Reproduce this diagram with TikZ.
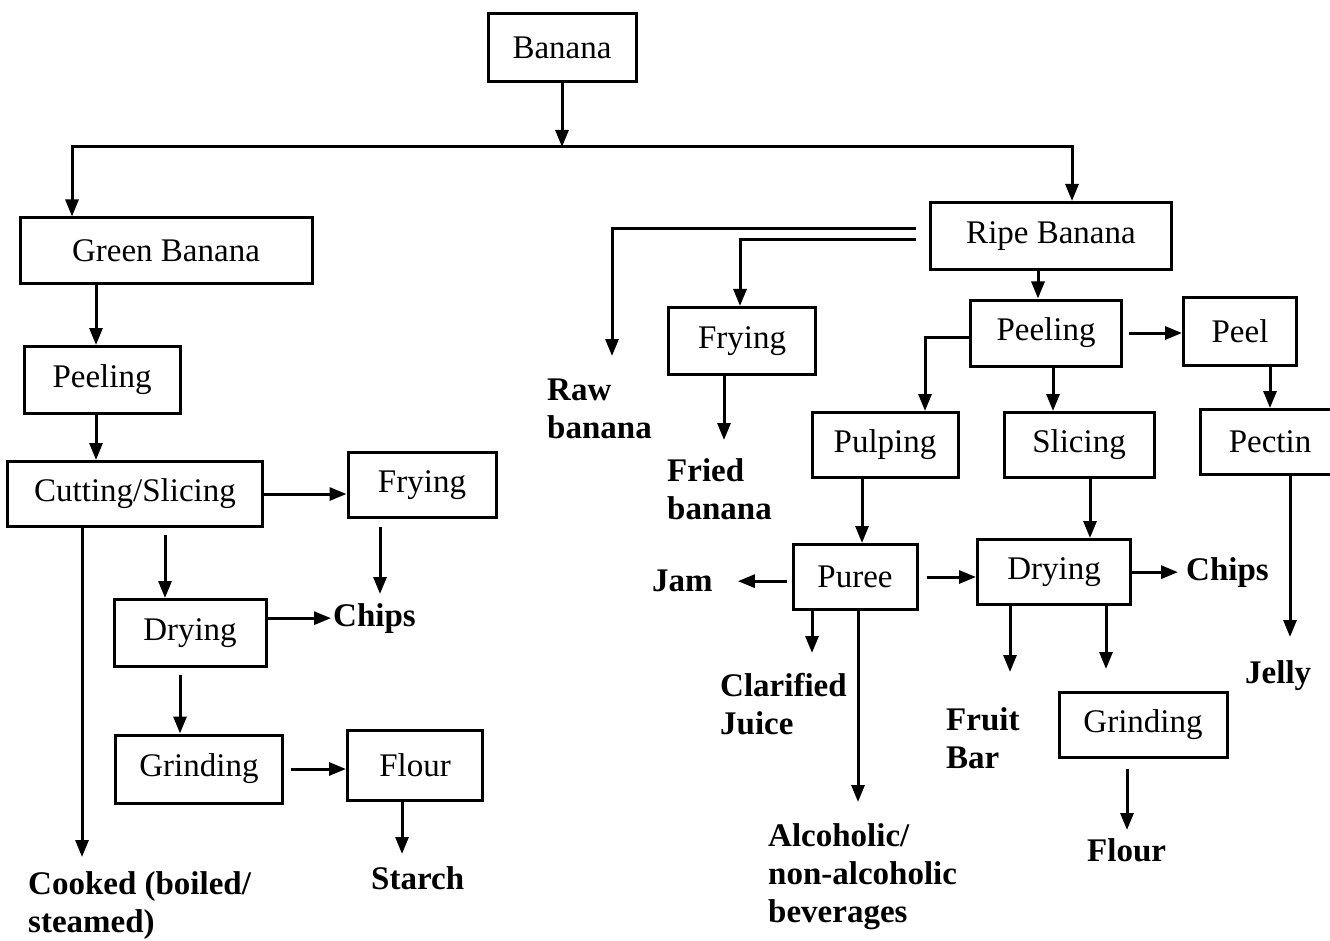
\documentclass[tikz,border=0pt]{standalone}
\usepackage{fontspec}
\setmainfont{Liberation Serif}
\usetikzlibrary{arrows.meta}
\begin{document}
\begin{tikzpicture}[x=1pt,y=-1pt,
  box/.style={draw, line width=3pt, inner sep=0pt, font=\fontsize{33}{38}\selectfont},
  term/.style={anchor=north west, inner sep=0pt, align=left, font=\bfseries\fontsize{33}{38}\selectfont},
  arr/.style={line width=3pt, -{Triangle[length=17pt,width=13pt]}},
  dbl/.style={line width=3pt, line join=miter, {Triangle[length=17pt,width=13pt]}-{Triangle[length=17pt,width=13pt]}}]
\useasboundingbox (0,0) rectangle (1330,941);
% helper x positions
\coordinate (v72) at (72,147);
\coordinate (v1072) at (1072,147);
\coordinate (v96) at (96,0);
\coordinate (v380) at (380,0);
\coordinate (v165) at (165,0);
\coordinate (v180) at (180,0);
\coordinate (v402) at (402,0);
\coordinate (v82) at (82,0);
\coordinate (v612) at (612,0);
\coordinate (v740) at (740,0);
\coordinate (v724) at (724,0);
\coordinate (v1038) at (1038,0);
\coordinate (v1270) at (1270,0);
\coordinate (v1290) at (1290,0);
\coordinate (v925) at (925,0);
\coordinate (v1053) at (1053,0);
\coordinate (v862) at (862,0);
\coordinate (v1090) at (1090,0);
\coordinate (v812) at (812,0);
\coordinate (v858) at (858,0);
\coordinate (v1010) at (1010,0);
\coordinate (v1106) at (1106,0);
\coordinate (v1127) at (1127,0);
% boxes
\node[box, minimum width=148pt, minimum height=68pt] (banana) at (562,48) {Banana};
\node[box, minimum width=292pt, minimum height=66pt] (gb) at (166,251) {Green Banana};
\node[box, minimum width=156pt, minimum height=67pt] (pl1) at (102,380) {Peeling};
\node[box, minimum width=255pt, minimum height=65pt] (cut) at (135,494) {Cutting/Slicing};
\node[box, minimum width=148pt, minimum height=65pt] (fr1) at (422,485) {Frying};
\node[box, minimum width=152pt, minimum height=67pt] (dr1) at (190,633) {Drying};
\node[box, minimum width=167pt, minimum height=68pt] (gr1) at (199,769) {Grinding};
\node[box, minimum width=135pt, minimum height=70pt] (fl1) at (415,765) {Flour};
\node[box, minimum width=241pt, minimum height=67pt] (ripe) at (1051,236) {Ripe Banana};
\node[box, minimum width=147pt, minimum height=67pt] (fr2) at (742,341) {Frying};
\node[box, minimum width=151pt, minimum height=66pt] (pl2) at (1046,333) {Peeling};
\node[box, minimum width=113pt, minimum height=68pt] (peel) at (1240,331) {Peel};
\node[box, minimum width=140pt, minimum height=65pt] (pectin) at (1270,442) {Pectin};
\node[box, minimum width=146pt, minimum height=65pt] (pulp) at (885,445) {Pulping};
\node[box, minimum width=150pt, minimum height=65pt] (slic) at (1079,445) {Slicing};
\node[box, minimum width=124pt, minimum height=65pt] (puree) at (855,577) {Puree};
\node[box, minimum width=153pt, minimum height=65pt] (dr2) at (1054,572) {Drying};
\node[box, minimum width=168pt, minimum height=65pt] (gr2) at (1143,725) {Grinding};
% terminal texts
\node[term] (raw) at (547,379) {Raw\\banana};
\node[term] (fried) at (667,458) {Fried\\banana};
\node[term] (chips1) at (333,603) {Chips};
\node[term] (starch) at (371,866) {Starch};
\node[term] (cooked) at (28,871) {Cooked (boiled/\\steamed)};
\node[term] (jam) at (652,570) {Jam};
\node[term] (chips2) at (1186,557) {Chips};
\node[term] (jelly) at (1245,660) {Jelly};
\node[term] (clar) at (720,673) {Clarified\\Juice};
\node[term] (alc) at (768,823) {Alcoholic/\\non-alcoholic\\beverages};
\node[term] (fruit) at (946,707) {Fruit\\Bar};
\node[term] (flour2) at (1087,838) {Flour};
% connectors: top
\draw[arr] (banana.south) -- (banana.south |- v72);
\draw[dbl] (gb.north -| v72) |- (v1072) -- (ripe.north -| v1072);
% left branch
\draw[arr] (gb.south -| v96) -- (pl1.north -| v96);
\draw[arr] (pl1.south -| v96) -- (cut.north -| v96);
\draw[arr] (cut.east) -- (fr1.west |- cut.east);
\draw[arr, shorten <=8pt, shorten >=9pt] (fr1.south -| v380) -- (chips1.north -| v380);
\draw[arr, shorten <=7pt] (cut.south -| v165) -- (dr1.north -| v165);
\draw[arr, shorten >=2pt] (dr1.east |- chips1.west) -- (chips1.west);
\draw[arr, shorten <=7pt] (dr1.south -| v180) -- (gr1.north -| v180);
\draw[arr, shorten <=7pt] (gr1.east) -- (fl1.west |- gr1.east);
\draw[arr, shorten >=12pt] (fl1.south -| v402) -- (starch.north -| v402);
\draw[arr, shorten >=14pt] (cut.south -| v82) -- (cooked.north -| v82);
% right branch
\draw[arr, shorten <=13pt, shorten >=23pt] ([yshift=7pt]ripe.west) -| (raw.north -| v612);
\draw[arr, shorten <=13pt] ([yshift=-4pt]ripe.west) -| (fr2.north -| v740);
\draw[arr, shorten >=18pt] (fr2.south -| v724) -- (fried.north -| v724);
\draw[arr] (ripe.south -| v1038) -- (pl2.north -| v1038);
\draw[arr, shorten <=6pt] (pl2.east) -- (peel.west |- pl2.east);
\draw[arr] (peel.south -| v1270) -- (pectin.north -| v1270);
\draw[arr, shorten >=23pt] (pectin.south -| v1290) -- (jelly.north -| v1290);
\draw[arr] ([yshift=-4pt]pl2.west) -| (pulp.north -| v925);
\draw[arr] (pl2.south -| v1053) -- (slic.north -| v1053);
\draw[arr] (pulp.south -| v862) -- (puree.north -| v862);
\draw[arr] (slic.south -| v1090) -- (dr2.north -| v1090);
\draw[arr, shorten <=8pt] (puree.east) -- (dr2.west |- puree.east);
\draw[arr, shorten <=5pt, shorten >=25pt] (puree.west |- jam.east) -- (jam.east);
\draw[arr, shorten >=8pt] (dr2.east |- chips2.west) -- (chips2.west);
\draw[arr, shorten >=20pt] (puree.south -| v812) -- (clar.north -| v812);
\draw[arr, shorten >=21pt] (puree.south -| v858) -- (alc.north -| v858);
\draw[arr, shorten >=35pt] (dr2.south -| v1010) -- (fruit.north -| v1010);
\draw[arr, shorten >=22pt] (dr2.south -| v1106) -- (gr2.north -| v1106);
\draw[arr, shorten <=10pt, shorten >=8pt] (gr2.south -| v1127) -- (flour2.north -| v1127);
\end{tikzpicture}
\end{document}
